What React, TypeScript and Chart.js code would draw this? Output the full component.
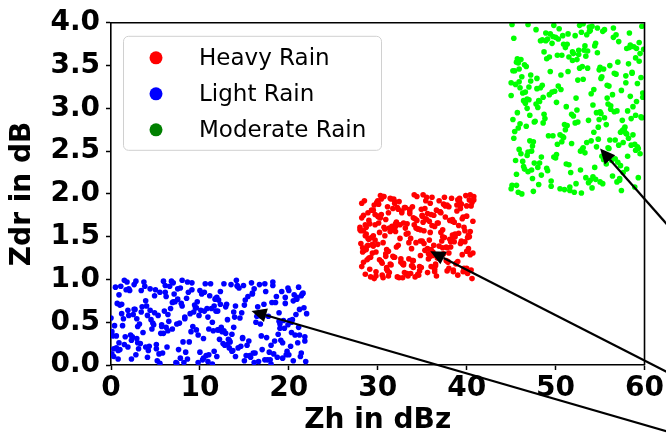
import React, { useEffect, useRef } from 'react';
import { Chart, registerables } from 'chart.js';
Chart.register(...registerables);

// Light Rain (blue)
const lightZh = [
  3.4, 17.8, 9.1, 0.6, 12.3, 20.5, 5.7, 14.2, 1.9, 8.3, 19.6, 11.0, 6.4, 21.7, 2.8, 15.5, 10.2, 4.1, 18.9, 13.6,
  7.2, 0.3, 16.4, 21.1, 9.8, 3.0, 12.9, 5.1, 19.2, 14.8, 1.2, 10.7, 17.3, 6.9, 20.9, 8.6, 13.1, 2.3, 15.9, 11.6,
  4.7, 18.2, 0.9, 12.0, 7.8, 21.4, 3.6, 16.0, 9.4, 14.5, 5.5, 19.9, 1.6, 11.3, 20.2, 6.1, 13.8, 8.0, 17.0, 2.5,
  10.4, 15.1, 0.1, 19.4, 7.5, 12.6, 4.4, 21.9, 9.6, 16.7, 2.0, 13.3, 18.5, 5.9, 11.9, 20.6, 3.2, 14.0, 8.8, 6.6,
  17.6, 1.4, 10.0, 21.2, 4.9, 13.7, 7.0, 19.0, 0.7, 15.3, 11.4, 6.2, 18.0, 2.6, 9.0, 20.0, 12.2, 5.3, 16.2, 3.9,
  14.9, 8.1, 0.4, 11.8, 19.7, 6.7, 2.2, 17.1, 10.9, 21.5, 4.3, 13.0, 7.7, 15.8, 1.0, 9.3, 18.7, 12.7, 5.0, 20.4,
  3.1, 16.5, 11.1, 7.4, 0.0, 14.4, 21.0, 9.7, 5.6, 18.3, 1.8, 12.4, 6.0, 19.3, 10.5, 2.9, 15.0, 8.4, 20.8, 13.5,
  4.6, 17.4, 0.8, 10.1, 21.8, 6.5, 14.1, 2.4, 11.7, 19.8, 8.9, 5.2, 16.1, 1.3, 12.8, 7.9, 20.3, 3.8, 15.6, 9.5,
  18.6, 0.2, 13.9, 6.3, 10.6, 21.3, 4.0, 16.8, 8.2, 2.1, 19.1, 12.1, 5.8, 14.7, 1.1, 11.5, 17.9, 7.1, 20.1, 3.3,
  9.9, 15.2, 0.5, 12.5, 18.1, 4.8, 7.6, 21.6, 2.7, 13.2, 10.3, 16.9, 6.8, 1.5, 19.5, 8.5, 14.3, 3.5, 11.2, 20.7,
  5.4, 17.2, 9.2, 0.9, 13.4, 22.0, 6.1, 15.7, 2.9, 11.9, 18.8, 4.2, 10.8, 1.7, 16.3, 7.3, 20.5, 12.0, 3.7, 14.6,
  8.7, 19.0, 0.6, 11.6, 5.9, 17.5, 2.3, 13.8, 21.1, 7.8, 10.0, 15.4, 4.5, 18.4, 1.2, 9.1, 20.0, 6.4, 12.9, 16.6,
  3.0, 14.2, 10.5, 0.3, 19.9, 7.0, 12.3, 5.1, 17.7, 21.8, 8.0, 2.6, 15.0, 11.0, 4.9, 18.0, 1.9, 13.6, 6.9, 20.3,
  9.6, 16.1, 0.1, 12.7, 4.1, 21.4, 7.5, 14.8, 2.0, 18.9, 10.4, 5.7, 13.1, 19.6, 1.5, 8.3, 16.9, 3.4, 11.4, 20.9,
  6.2, 15.9, 0.8, 10.9, 17.3, 4.4, 13.3, 21.2, 2.8, 8.6, 12.1, 19.3, 5.5, 14.0, 1.0, 9.8, 18.2, 3.9, 11.8, 7.4,
];
const lightZdr = [
  0.62, 0.15, 0.88, 0.34, 0.71, 0.05, 0.47, 0.93, 0.21, 0.56, 0.79, 0.12, 0.40, 0.67, 0.98, 0.28, 0.83, 0.09, 0.51, 0.36,
  0.74, 0.19, 0.57, 0.91, 0.03, 0.45, 0.68, 0.24, 0.86, 0.32, 0.60, 0.11, 0.95, 0.42, 0.77, 0.07, 0.53, 0.29, 0.84, 0.16,
  0.49, 0.97, 0.26, 0.63, 0.08, 0.81, 0.38, 0.14, 0.70, 0.55, 0.02, 0.90, 0.33, 0.66, 0.22, 0.85, 0.44, 0.99, 0.18, 0.59,
  0.31, 0.76, 0.13, 0.52, 0.89, 0.25, 0.64, 0.04, 0.41, 0.94, 0.58, 0.20, 0.73, 0.37, 0.10, 0.82, 0.48, 0.69, 0.27, 0.92,
  0.06, 0.54, 0.87, 0.35, 0.61, 0.17, 0.96, 0.43, 0.72, 0.23, 0.50, 0.80, 0.01, 0.65, 0.39, 0.87, 0.30, 0.58, 0.14, 0.75,
  0.93, 0.27, 0.46, 0.78, 0.12, 0.66, 0.35, 0.57, 0.04, 0.83, 0.22, 0.71, 0.49, 0.96, 0.18, 0.62, 0.09, 0.40, 0.88, 0.53,
  0.19, 0.68, 0.81, 0.02, 0.55, 0.90, 0.26, 0.74, 0.37, 0.13, 0.97, 0.44, 0.63, 0.08, 0.85, 0.31, 0.70, 0.15, 0.59, 0.94,
  0.42, 0.86, 0.07, 0.64, 0.28, 0.51, 0.99, 0.33, 0.77, 0.16, 0.60, 0.05, 0.89, 0.46, 0.23, 0.72, 0.38, 0.92, 0.11, 0.67,
  0.80, 0.34, 0.56, 0.21, 0.95, 0.10, 0.69, 0.48, 0.03, 0.87, 0.29, 0.76, 0.14, 0.61, 0.92, 0.40, 0.06, 0.83, 0.52, 0.25,
  0.58, 0.11, 0.91, 0.39, 0.73, 0.47, 0.18, 0.84, 0.65, 0.30, 0.06, 0.57, 0.98, 0.24, 0.43, 0.78, 0.20, 0.68, 0.95, 0.35,
  0.13, 0.71, 0.45, 0.82, 0.27, 0.60, 0.93, 0.09, 0.54, 0.79, 0.36, 0.17, 0.66, 0.88, 0.50, 0.03, 0.75, 0.41, 0.97, 0.22,
  0.85, 0.48, 0.20, 0.69, 0.98, 0.32, 0.07, 0.62, 0.44, 0.90, 0.15, 0.80, 0.53, 0.28, 0.71, 0.96, 0.12, 0.59, 0.37, 0.04,
  0.26, 0.92, 0.63, 0.10, 0.47, 0.74, 0.86, 0.19, 0.57, 0.33, 0.69, 0.94, 0.05, 0.42, 0.81, 0.23, 0.64, 0.16, 0.73, 0.50,
  0.67, 0.03, 0.39, 0.95, 0.58, 0.14, 0.77, 0.31, 0.89, 0.61, 0.08, 0.45, 0.24, 0.72, 0.99, 0.54, 0.34, 0.87, 0.01, 0.79,
  0.44, 0.83, 0.17, 0.56, 0.06, 0.89, 0.29, 0.65, 0.12, 0.97, 0.41, 0.26, 0.85, 0.10, 0.70, 0.35, 0.93, 0.21, 0.63, 0.48,
];

// Heavy Rain (red)
const heavyZh = [
  33.4, 29.1, 37.8, 31.2, 39.5, 28.6, 35.0, 40.3, 30.4, 36.7, 32.1, 38.9, 28.2, 34.5, 39.9, 31.7, 36.0, 29.8, 37.3, 33.0,
  30.9, 38.1, 34.2, 28.9, 40.6, 32.6, 36.4, 29.4, 37.0, 31.5, 39.2, 33.8, 28.4, 35.6, 30.1, 38.6, 32.9, 40.0, 34.8, 29.7,
  36.9, 31.0, 28.0, 39.7, 33.6, 37.5, 30.6, 35.3, 29.2, 38.4, 32.3, 40.8, 34.0, 28.7, 36.2, 31.9, 39.0, 33.2, 30.0, 37.7,
  35.8, 29.5, 38.8, 32.0, 28.3, 40.4, 34.7, 31.4, 37.2, 30.3, 36.6, 39.4, 33.5, 29.0, 35.1, 38.0, 31.8, 28.8, 34.3, 40.1,
  32.7, 37.9, 30.8, 36.1, 28.5, 39.1, 33.9, 31.1, 38.3, 29.6, 35.5, 40.7, 32.4, 37.1, 30.2, 34.9, 28.1, 39.6, 36.3, 31.6,
  38.5, 33.1, 29.9, 35.9, 40.2, 31.3, 37.6, 28.7, 34.4, 39.8, 30.5, 36.8, 32.8, 29.3, 38.2, 35.2, 31.0, 40.5, 33.7, 37.4,
  29.0, 34.6, 39.3, 32.2, 36.5, 28.4, 38.7, 31.9, 35.4, 30.7, 40.0, 33.3, 37.0, 29.7, 34.1, 39.0, 32.5, 28.9, 36.4, 30.1,
  37.3, 31.4, 35.7, 40.4, 29.2, 33.6, 38.1, 30.9, 36.0, 28.2, 34.8, 39.5, 32.0, 37.8, 30.4, 35.3, 40.8, 29.5, 33.9, 38.6,
  31.7, 36.2, 28.6, 39.9, 34.0, 30.0, 37.5, 32.9, 35.9, 29.8, 38.9, 33.4, 40.1, 31.2, 36.7, 28.0, 34.5, 39.2, 30.6, 35.0,
  33.8, 38.4, 30.3, 35.6, 29.1, 40.6, 32.3, 37.2, 28.8, 34.2, 39.7, 31.5, 36.9, 30.8, 33.0, 38.0, 29.4, 35.8, 40.3, 32.6,
  36.1, 29.6, 34.9, 39.4, 31.8, 28.5, 37.7, 33.2, 40.0, 30.2, 35.1, 38.8, 32.1, 28.3, 36.6, 31.1, 39.8, 34.3, 29.9, 37.0,
  30.5, 35.4, 40.2, 32.7, 37.9, 29.3, 34.1, 38.3, 31.0, 36.3, 28.9, 33.5, 39.1, 30.7, 35.7, 40.7, 32.2, 37.6, 29.0, 34.6,
  39.0, 32.8, 28.1, 36.8, 33.1, 30.1, 38.5, 35.2, 29.7, 40.4, 31.6, 37.4, 34.7, 28.6, 36.0, 32.4, 39.6, 30.9, 35.5, 38.2,
  29.4, 37.1, 33.7, 31.3, 40.1, 35.9, 28.4, 34.4, 38.7, 30.4, 36.5, 32.0, 39.3, 29.8, 33.3, 37.8, 31.9, 40.5, 35.0, 28.7,
  34.0, 39.7, 30.6, 36.4, 32.5, 28.2, 38.0, 33.9, 31.2, 37.3, 29.5, 35.6, 40.0, 32.9, 36.9, 30.0, 34.8, 38.4, 31.4, 33.6,
];
const heavyZdr = [
  1.54, 1.12, 1.87, 1.33, 1.71, 1.06, 1.45, 1.93, 1.21, 1.66, 1.38, 1.80, 1.15, 1.59, 1.98, 1.27, 1.76, 1.09, 1.50, 1.84,
  1.30, 1.69, 1.03, 1.48, 1.90, 1.24, 1.62, 1.41, 1.79, 1.17, 1.95, 1.36, 1.57, 1.08, 1.73, 1.44, 1.19, 1.86, 1.28, 1.64,
  1.92, 1.35, 1.58, 1.11, 1.77, 1.49, 1.02, 1.83, 1.26, 1.68, 1.40, 1.97, 1.14, 1.61, 1.32, 1.89, 1.05, 1.53, 1.74, 1.22,
  1.46, 1.81, 1.18, 1.65, 1.37, 1.99, 1.10, 1.56, 1.29, 1.72, 1.04, 1.88, 1.43, 1.25, 1.67, 1.13, 1.94, 1.39, 1.60, 1.07,
  1.78, 1.20, 1.51, 1.96, 1.34, 1.63, 1.16, 1.85, 1.47, 1.01, 1.70, 1.31, 1.91, 1.55, 1.23, 1.82, 1.42, 1.09, 1.75, 1.58,
  1.11, 1.60, 1.90, 1.27, 1.52, 1.08, 1.73, 1.35, 1.97, 1.44, 1.19, 1.66, 1.02, 1.81, 1.38, 1.57, 1.14, 1.86, 1.48, 1.30,
  1.69, 1.05, 1.42, 1.84, 1.18, 1.75, 1.53, 1.26, 1.92, 1.61, 1.33, 1.07, 1.79, 1.46, 1.99, 1.21, 1.64, 1.40, 1.12, 1.88,
  1.37, 1.95, 1.24, 1.56, 1.03, 1.80, 1.47, 1.70, 1.15, 1.89, 1.58, 1.29, 1.62, 1.10, 1.76, 1.34, 1.93, 1.51, 1.22, 1.67,
  1.83, 1.28, 1.64, 1.09, 1.72, 1.41, 1.96, 1.17, 1.55, 1.32, 1.87, 1.04, 1.49, 1.78, 1.25, 1.61, 1.06, 1.91, 1.43, 1.74,
  1.16, 1.52, 1.98, 1.36, 1.65, 1.01, 1.82, 1.45, 1.23, 1.71, 1.13, 1.94, 1.39, 1.59, 1.08, 1.85, 1.31, 1.68, 1.50, 1.20,
  1.63, 1.87, 1.14, 1.45, 1.26, 1.92, 1.38, 1.06, 1.74, 1.55, 1.99, 1.19, 1.67, 1.32, 1.81, 1.10, 1.57, 1.43, 1.90, 1.28,
  1.05, 1.71, 1.36, 1.80, 1.21, 1.49, 1.64, 1.95, 1.12, 1.40, 1.78, 1.24, 1.54, 1.97, 1.30, 1.68, 1.03, 1.86, 1.47, 1.59,
  1.93, 1.18, 1.57, 1.25, 1.84, 1.66, 1.09, 1.42, 1.76, 1.29, 1.62, 1.88, 1.15, 1.51, 1.35, 1.02, 1.73, 1.27, 1.96, 1.44,
  1.40, 1.78, 1.07, 1.60, 1.33, 1.89, 1.20, 1.69, 1.50, 1.94, 1.16, 1.56, 1.83, 1.04, 1.65, 1.37, 1.91, 1.11, 1.75, 1.53,
  1.22, 1.61, 1.97, 1.09, 1.48, 1.72, 1.31, 1.85, 1.04, 1.58, 1.39, 1.77, 1.13, 1.66, 1.26, 1.92, 1.45, 1.70, 1.18, 1.82,
];

// Moderate Rain (green)
const moderateZh = [
  52.3, 46.8, 57.1, 49.5, 59.4, 45.2, 54.7, 48.0, 56.2, 50.9, 58.6, 47.4, 53.5, 45.9, 55.8, 51.6, 59.9, 48.7, 54.0, 46.3,
  57.7, 50.2, 45.6, 53.1, 58.9, 47.9, 55.3, 49.1, 56.9, 52.7, 46.5, 59.1, 51.0, 54.4, 48.4, 57.4, 45.3, 53.8, 50.5, 58.2,
  47.2, 55.0, 51.9, 59.6, 46.0, 53.3, 49.8, 57.9, 45.7, 52.1, 56.5, 48.2, 58.4, 50.7, 54.9, 47.6, 55.9, 46.9, 51.3, 59.2,
  54.2, 48.9, 56.7, 45.0, 52.9, 58.0, 50.0, 46.6, 55.5, 49.3, 57.2, 53.0, 45.8, 59.7, 51.5, 47.0, 56.0, 49.7, 54.6, 52.5,
  46.1, 58.7, 51.2, 55.6, 48.5, 53.7, 45.4, 57.5, 50.3, 59.0, 47.8, 54.1, 52.0, 46.7, 56.4, 49.0, 58.3, 51.8, 55.2, 47.1,
  59.5, 50.6, 45.1, 54.8, 48.1, 57.0, 52.2, 46.4, 55.7, 49.6, 58.5, 51.4, 47.5, 53.6, 56.6, 45.5, 59.3, 50.8, 54.3, 48.6,
  53.9, 47.3, 56.1, 51.1, 59.8, 46.2, 52.6, 58.1, 49.4, 55.1, 45.9, 57.6, 50.1, 54.5, 48.3, 52.8, 56.8, 47.7, 59.0, 51.7,
  49.2, 55.4, 45.6, 58.8, 52.4, 47.0, 56.3, 50.4, 54.0, 46.8, 57.3, 53.2, 48.8, 59.6, 51.0, 45.3, 55.9, 49.9, 57.8, 53.4,
  46.6, 52.0, 58.4, 48.4, 55.0, 50.8, 45.0, 56.7, 53.8, 47.4, 59.2, 51.6, 54.7, 46.0, 57.9, 49.5, 52.9, 58.0, 48.0, 55.6,
  57.0, 45.8, 51.3, 54.2, 49.1, 59.4, 46.9, 53.1, 56.2, 48.7, 52.3, 58.6, 45.4, 55.3, 50.2, 47.9, 57.4, 51.9, 54.9, 46.3,
  50.0, 56.4, 47.2, 53.5, 59.1, 45.7, 55.8, 49.8, 52.7, 58.2, 46.5, 54.4, 51.4, 57.7, 48.2, 53.0, 45.2, 56.9, 50.7, 59.7,
  54.6, 48.9, 58.9, 45.9, 52.5, 56.0, 47.6, 55.5, 50.5, 59.9, 46.1, 53.3, 57.2, 49.0, 51.8, 55.1, 47.1, 58.7, 45.5, 52.2,
  48.5, 57.5, 51.5, 46.4, 54.1, 59.3, 49.6, 53.7, 56.6, 45.1, 52.6, 58.1, 47.8, 55.2, 50.3, 57.6, 46.7, 54.8, 49.3, 56.1,
  59.0, 46.2, 53.9, 50.9, 57.1, 48.1, 55.7, 45.6, 52.8, 58.3, 49.7, 54.3, 47.3, 56.5, 51.2, 59.5, 45.0, 53.6, 48.6, 57.9,
  51.1, 55.4, 46.8, 58.5, 49.4, 53.4, 56.8, 47.5, 59.8, 50.1, 54.5, 45.8, 52.4, 57.3, 48.3, 55.0, 50.6, 58.0, 46.9, 53.1,
];
const moderateZdr = [
  3.12, 2.45, 3.78, 2.09, 3.55, 2.87, 3.94, 2.31, 3.03, 2.66, 3.41, 2.18, 3.86, 2.52, 3.27, 2.04, 3.69, 2.93, 3.17, 2.38,
  2.74, 3.62, 2.23, 3.99, 2.58, 3.35, 2.12, 3.81, 2.97, 3.47, 2.29, 3.08, 2.81, 3.73, 2.43, 3.21, 2.65, 3.90, 2.06, 3.52,
  3.39, 2.14, 3.66, 2.90, 3.24, 2.48, 3.97, 2.71, 3.58, 2.02, 3.83, 2.36, 3.14, 2.61, 3.45, 2.84, 3.05, 2.26, 3.75, 2.55,
  2.20, 3.88, 2.63, 3.30, 2.01, 3.70, 2.42, 3.19, 2.89, 3.60, 2.16, 3.49, 2.77, 3.96, 2.34, 3.10, 2.53, 3.84, 2.95, 3.33,
  3.57, 2.69, 3.02, 2.40, 3.80, 2.13, 3.44, 2.86, 3.26, 2.51, 3.92, 2.07, 3.64, 2.79, 3.16, 2.30, 3.71, 2.59, 3.37, 2.92,
  2.47, 3.22, 3.98, 2.64, 2.11, 3.54, 2.83, 3.09, 2.35, 3.76, 2.57, 3.43, 2.03, 3.67, 2.96, 3.28, 2.19, 3.85, 2.72, 3.13,
  3.91, 2.28, 3.50, 2.75, 3.18, 2.00, 3.63, 2.44, 3.87, 2.94, 3.31, 2.60, 3.07, 2.17, 3.79, 2.50, 3.40, 2.85, 3.59, 2.25,
  2.68, 3.46, 2.10, 3.72, 2.98, 3.25, 2.39, 3.93, 2.62, 3.11, 2.33, 3.68, 2.88, 3.36, 2.05, 3.82, 2.54, 3.20, 2.78, 3.61,
  3.06, 2.91, 3.74, 2.22, 3.48, 2.67, 3.15, 2.41, 3.95, 2.56, 3.29, 2.08, 3.65, 2.82, 3.38, 2.15, 3.89, 2.70, 3.01, 2.46,
  2.37, 3.53, 2.80, 3.04, 2.27, 3.77, 2.49, 3.34, 2.99, 3.66, 2.12, 3.42, 2.73, 3.90, 2.58, 3.23, 2.04, 3.56, 2.87, 3.18,
  3.83, 2.21, 3.32, 2.60, 3.70, 2.95, 3.12, 2.43, 3.97, 2.65, 3.51, 2.31, 3.87, 2.76, 3.08, 2.52, 3.44, 2.14, 3.62, 2.89,
  2.55, 3.79, 2.08, 3.46, 2.84, 3.26, 2.36, 3.92, 2.69, 3.14, 2.47, 3.73, 2.18, 3.58, 2.93, 3.35, 2.62, 3.02, 2.39, 3.85,
  3.27, 2.74, 3.60, 2.32, 3.96, 2.53, 3.19, 2.86, 3.41, 2.10, 3.68, 2.97, 3.05, 2.44, 3.81, 2.25, 3.49, 2.78, 3.16, 2.63,
  2.92, 3.37, 2.16, 3.75, 2.57, 3.09, 2.81, 3.54, 2.28, 3.88, 2.68, 3.22, 2.50, 3.94, 2.35, 3.64, 2.06, 3.47, 2.83, 3.30,
  3.71, 2.40, 3.00, 2.88, 3.43, 2.19, 3.86, 2.61, 3.13, 2.46, 3.76, 2.02, 3.57, 2.72, 3.24, 2.96, 3.39, 2.29, 3.98, 2.54,
];

const seriesLabels = ['Heavy Rain', 'Light Rain', 'Moderate Rain'];
const seriesColors = ['#ff0000', '#0000ff', '#00ff00'];
const legendColors = ['#ff0000', '#0000ff', '#008000'];

const xTickStep = 10;
const yTickStep = 0.5;
const xTitle = 'Zh in dBz';
const yTitle = 'Zdr in dB';

// Annotation arrows (data coordinates): head points into each cluster
const arrowHeadZh = [55.0, 35.9, 15.8];
const arrowHeadZdr = [2.53, 1.33, 0.63];
const arrowTailZh = [64.0, 64.0, 64.0];
const arrowTailZdr = [1.47, -0.16, -0.82];

const FONT = "'DejaVu Sans', sans-serif";

function pairs(xs: number[], ys: number[]) {
  const n = Math.min(xs.length, ys.length);
  const out: { x: number; y: number }[] = [];
  for (let i = 0; i < n; i++) out.push({ x: xs[i], y: ys[i] });
  return out;
}

const framePlugin = {
  id: 'frame',
  afterDraw(chart: any) {
    const { ctx, chartArea } = chart;
    ctx.save();
    ctx.strokeStyle = '#000';
    ctx.lineWidth = 1.6;
    ctx.beginPath();
    ctx.moveTo(chartArea.left, chartArea.top);
    ctx.lineTo(chartArea.right, chartArea.top);
    ctx.lineTo(chartArea.right, chartArea.bottom);
    ctx.stroke();
    ctx.restore();
  },
};

const legendPlugin = {
  id: 'innerLegend',
  afterDraw(chart: any) {
    const { ctx, chartArea } = chart;
    const x0 = chartArea.left + 12;
    const y0 = chartArea.top + 13;
    const w = 258;
    const h = 114;
    ctx.save();
    ctx.beginPath();
    if (ctx.roundRect) ctx.roundRect(x0 + 0.5, y0 + 0.5, w, h, 5);
    else ctx.rect(x0 + 0.5, y0 + 0.5, w, h);
    ctx.fillStyle = 'rgba(255,255,255,0.8)';
    ctx.fill();
    ctx.strokeStyle = '#d0d0d0';
    ctx.lineWidth = 1;
    ctx.stroke();
    ctx.font = `23px ${FONT}`;
    ctx.textBaseline = 'middle';
    ctx.textAlign = 'left';
    chart.data.datasets.forEach((ds: any, i: number) => {
      const cy = y0 + 22 + i * 36;
      ctx.beginPath();
      ctx.arc(x0 + 33, cy, 6.5, 0, Math.PI * 2);
      ctx.fillStyle = legendColors[i];
      ctx.fill();
      ctx.fillStyle = '#000';
      ctx.fillText(ds.label, x0 + 76, cy + 1);
    });
    ctx.restore();
  },
};

const arrowPlugin = {
  id: 'arrows',
  afterDraw(chart: any) {
    const { ctx } = chart;
    const xs = chart.scales.x;
    const ys = chart.scales.y;
    ctx.save();
    ctx.strokeStyle = '#000';
    ctx.fillStyle = '#000';
    ctx.lineWidth = 2.2;
    for (let i = 0; i < arrowHeadZh.length; i++) {
      const hx = xs.getPixelForValue(arrowHeadZh[i]);
      const hy = ys.getPixelForValue(arrowHeadZdr[i]);
      const tx = xs.getPixelForValue(arrowTailZh[i]);
      const ty = ys.getPixelForValue(arrowTailZdr[i]);
      const ang = Math.atan2(hy - ty, hx - tx);
      const len = 15;
      const half = 7;
      const bx = hx - len * Math.cos(ang);
      const by = hy - len * Math.sin(ang);
      ctx.beginPath();
      ctx.moveTo(tx, ty);
      ctx.lineTo(bx, by);
      ctx.stroke();
      ctx.beginPath();
      ctx.moveTo(hx, hy);
      ctx.lineTo(bx + half * Math.sin(ang), by - half * Math.cos(ang));
      ctx.lineTo(bx - half * Math.sin(ang), by + half * Math.cos(ang));
      ctx.closePath();
      ctx.fill();
    }
    ctx.restore();
  },
};

export default function App() {
  const ref = useRef<HTMLCanvasElement | null>(null);
  useEffect(() => {
    document.body.style.margin = '0';
    const canvas = ref.current;
    if (!canvas) return;
    const seriesData = [pairs(heavyZh, heavyZdr), pairs(lightZh, lightZdr), pairs(moderateZh, moderateZdr)];
    const chart = new Chart(canvas, {
      type: 'scatter',
      data: {
        datasets: seriesLabels.map((label, i) => ({
          label,
          data: seriesData[i],
          backgroundColor: seriesColors[i],
          borderWidth: 0,
          pointRadius: 2.8,
          pointHoverRadius: 2.8,
        })),
      },
      options: {
        animation: false,
        responsive: false,
        events: [],
        layout: { padding: { top: 17, right: 21, left: 0, bottom: 0 } },
        plugins: { legend: { display: false }, tooltip: { enabled: false } },
        scales: {
          x: {
            type: 'linear',
            min: 0,
            max: 60,
            afterFit: (s: any) => { s.height = 76; },
            ticks: {
              stepSize: xTickStep,
              color: '#000',
              padding: 2,
              font: { family: FONT, size: 28, weight: 'bold' },
            },
            grid: { color: 'rgba(0,0,0,0)', drawOnChartArea: false, tickColor: '#000', tickLength: 5, tickWidth: 1.5 },
            border: { display: true, color: '#000', width: 1.6 },
            title: {
              display: true,
              text: xTitle,
              color: '#000',
              font: { family: FONT, size: 28, weight: 'bold', lineHeight: 1.2 },
              padding: { top: 0, bottom: 3 },
            },
          },
          y: {
            type: 'linear',
            min: 0,
            max: 4,
            afterFit: (s: any) => { s.width = 111; },
            ticks: {
              stepSize: yTickStep,
              color: '#000',
              padding: 6,
              font: { family: FONT, size: 28, weight: 'bold' },
              callback: (v: any) => Number(v).toFixed(1),
            },
            grid: { color: 'rgba(0,0,0,0)', drawOnChartArea: false, tickColor: '#000', tickLength: 5, tickWidth: 1.5 },
            border: { display: true, color: '#000', width: 1.6 },
            title: {
              display: true,
              text: yTitle,
              color: '#000',
              font: { family: FONT, size: 28, weight: 'bold', lineHeight: 1.2 },
              padding: { top: 6, bottom: 0 },
            },
          },
        },
      },
      plugins: [framePlugin, arrowPlugin, legendPlugin],
    } as any);
    return () => chart.destroy();
  }, []);
  return (
    <div style={{ width: 666, height: 441 }}>
      <canvas ref={ref} width={666} height={441} style={{ display: 'block' }} />
    </div>
  );
}
